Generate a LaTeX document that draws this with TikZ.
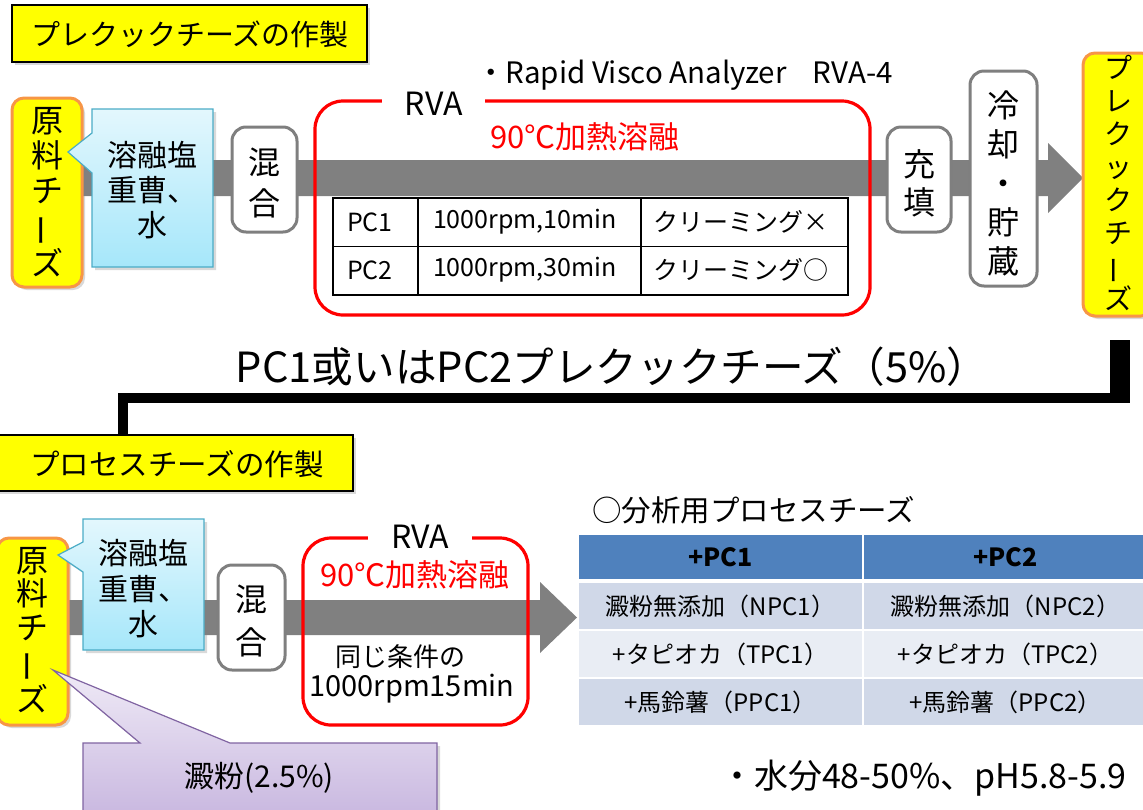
\documentclass[tikz,border=0pt]{standalone}
\usepackage{fontspec}
\usepackage{graphicx}
\setmainfont{Noto Sans CJK JP}
\usetikzlibrary{shadows,fit}
\definecolor{bandgray}{HTML}{808080}
\definecolor{ylw}{HTML}{FFFF00}
\definecolor{orng}{HTML}{F79646}
\definecolor{gedge}{HTML}{7F7F7F}
\definecolor{bluetop}{HTML}{E3F7FD}
\definecolor{bluebot}{HTML}{A6E7FA}
\definecolor{blueedge}{HTML}{4BACC6}
\definecolor{purtop}{HTML}{EFEAF6}
\definecolor{purbot}{HTML}{C9B8E0}
\definecolor{puredge}{HTML}{8064A2}
\definecolor{rvared}{HTML}{FF0000}
\definecolor{hdr}{HTML}{4F81BD}
\definecolor{rowa}{HTML}{D0D8E8}
\definecolor{rowb}{HTML}{E9EDF4}
\newcommand{\fsz}[2]{\fontsize{#1}{#2}\selectfont}
\newcommand{\choon}{\rotatebox[origin=c]{90}{ー}}
\begin{document}
\begin{tikzpicture}[x=0.5pt,y=-0.5pt,
  every node/.style={inner sep=0pt,outer sep=0pt},
  shad/.style={drop shadow={opacity=0.3,shadow xshift=1.5pt,shadow yshift=-1.5pt}},
  title/.style={draw=black,line width=0.8pt,fill=ylw,shad},
  ybox/.style={draw=orng,line width=1.5pt,fill=ylw,rounded corners=6pt,shad},
  gbox/.style={draw=gedge,line width=1.5pt,fill=white,rounded corners=7pt},
  vtext/.style={align=center},
  rvabox/.style={draw=rvared,line width=1.6pt,rounded corners=14pt},
  gaplabel/.style={fill=white,minimum height=18pt,font=\fsz{16pt}{18pt}},
  redtxt/.style={text=rvared,font=\fsz{15.5pt}{17pt}},
  blueco/.style={draw=blueedge,line width=0.6pt,top color=bluetop,bottom color=bluebot,shad},
  purco/.style={draw=puredge,line width=0.6pt,top color=purtop,bottom color=purbot,shad},
  band/.style={fill=bandgray},
  conn/.style={line width=5pt,draw=black},
  tabline/.style={draw=black,line width=0.9pt},
  tabtxt/.style={font=\fsz{12.5pt}{14pt},anchor=west},
  cellh/.style={fill=hdr},
  cella/.style={fill=rowa},
  cellb/.style={fill=rowb},
  htxt/.style={font=\bfseries\fsz{12.5pt}{14pt}},
  ctxt/.style={font=\fsz{12pt}{14pt}},
]
\useasboundingbox (0,0) rectangle (1143,809);
\clip (0,0) rectangle (1143,809);

% ---------- top flow ----------
\fill[band] (70,160) -- (1048,160) -- (1048,143) -- (1083,178) -- (1048,213) -- (1048,196) -- (70,196) -- cycle;

\node[title, fit={(12,5)(367,62)}] (t1) {};
\node[font=\fsz{14.5pt}{16pt}] (t1t) at (190,34) {プレクックチーズの作製};

\node[ybox, fit={(12,98)(82,287)}] (raw1) {};
\node[vtext, font=\fsz{16pt}{17.5pt}] (raw1t) at (raw1.center) {原\\料\\チ\\\choon\\ズ};

\path[blueco] (92,109) -- (213,109) -- (213,267) -- (92,267) -- (92,173) -- (68,152) -- (92,133) -- cycle;
\node[align=center, font=\fsz{15pt}{17.5pt}] (salt1) at (152.5,190) {溶融塩\\重曹、\\水};

\node[gbox, fit={(232,127)(297,232)}] (mix1) {};
\node[vtext, font=\fsz{16pt}{20.5pt}] (mix1t) at (264.5,183) {混\\合};

\node[rvabox, fit={(315,101)(870,315)}] (rva1) {};
\node[gaplabel, minimum width=51.5pt] (rva1l) at (433.5,104) {RVA};
\node[anchor=west, font=\fsz{14.75pt}{16pt}] (spec) at (476,75) {・Rapid Visco Analyzer\hspace{13pt}RVA-4};
\node[redtxt] (heat1) at (585,137) {90℃加熱溶融};

\node[tabline, fill=white, fit={(333,198)(848,295)}] (tab1) {};
\draw[tabline] (tab1.west) -- (tab1.east) (418,198) -- (418,295) (641,198) -- (641,295);
\node[tabtxt] (r1a) at (347,222) {PC1};
\node[tabtxt] (r1b) at (433,222) {1000rpm,10min};
\node[tabtxt] (r1c) at (653,222) {クリーミング×};
\node[tabtxt] (r2a) at (347,270) {PC2};
\node[tabtxt] (r2b) at (433,270) {1000rpm,30min};
\node[tabtxt] (r2c) at (653,270) {クリーミング○};

\node[gbox, fit={(887,127)(951,232)}] (fill1) {};
\node[vtext, font=\fsz{16pt}{19pt}] (fill1t) at (919,183) {充\\填};
\node[gbox, fit={(970,71)(1037,286)}] (cool1) {};
\node[vtext, font=\fsz{16pt}{19.5pt}] (cool1t) at (1003.5,183) {冷\\却\\・\\貯\\蔵};
\node[ybox, fit={(1083,53)(1153,316)}] (pc) {};
\node[vtext, font=\fsz{14pt}{16.5pt}] (pct) at (1118,183) {プ\\レ\\ク\\ッ\\ク\\チ\\\choon\\ズ};

% ---------- middle ----------
\node[font=\fsz{20.8pt}{22pt}] (mid) at (612,367) {PC1或いはPC2プレクックチーズ（5\%）};

\node[title, fit={(-3,435)(353,491)}] (t2) {};
\node[font=\fsz{14.75pt}{16pt}] (t2t) at (177,464) {プロセスチーズの作製};

\coordinate (cA) at (1120,340);
\coordinate (cB) at (123,398);
\draw[line width=10pt] (cA) -- (1120,403);
\draw[conn] (1125,398) -- (cB) -- (cB |- t2.north);

% ---------- bottom flow ----------
\fill[band] (60,600) -- (540,600) -- (540,582) -- (577,617.5) -- (540,653) -- (540,635) -- (60,635) -- cycle;

\node[ybox, fit={(-3,538)(68,725)}] (raw2) {};
\node[vtext, font=\fsz{16pt}{16.75pt}] (raw2t) at (33,630) {原\\料\\チ\\\choon\\ズ};

\path[blueco] (83,519) -- (204,519) -- (204,650) -- (83,650) -- (83,572) -- (58,555) -- (83,542) -- cycle;
\node[align=center, font=\fsz{15pt}{17.75pt}] (salt2) at (143.5,589) {溶融塩\\重曹、\\水};

\node[gbox, fit={(218,565)(285,670)}] (mix2) {};
\node[vtext, font=\fsz{16pt}{21.5pt}] (mix2t) at (251.5,621) {混\\合};

\node[rvabox, fit={(303,538)(528,725)}] (rva2) {};
\node[gaplabel, minimum width=52pt] (rva2l) at (420,537) {RVA};
\node[redtxt] (heat2) at (415,575) {90℃加熱溶融};
\node[font=\fsz{13pt}{15pt}] (same) at (400,657) {同じ条件の};
\node[font=\fsz{14.5pt}{16pt}] (cond) at (412,689) {1000rpm15min};

\path[purco] (83,743) -- (140,743) -- (53,670) -- (230,743) -- (437,743) -- (437,815) -- (83,815) -- cycle;
\node[font=\fsz{15pt}{17pt}] (starch) at (259,778) {澱粉(2.5\%)};

% ---------- analysis table ----------
\node[anchor=west, font=\fsz{14.75pt}{16pt}] (ana) at (592,510) {○分析用プロセスチーズ};
\node[cellh, fit={(579,535)(862,579)}] (h1) {};
\node[cellh, fit={(864,535)(1147,579)}] (h2) {};
\node[cella, fit={(579,583)(862,629)}] (a1) {};
\node[cella, fit={(864,583)(1147,629)}] (a2) {};
\node[cellb, fit={(579,631)(862,677)}] (b1) {};
\node[cellb, fit={(864,631)(1147,677)}] (b2) {};
\node[cella, fit={(579,679)(862,725)}] (c1) {};
\node[cella, fit={(864,679)(1147,725)}] (c2) {};
\node[htxt] (h1t) at (h1.center) {+PC1};
\node[htxt] (h2t) at (h2.center) {+PC2};
\node[ctxt] (a1t) at (a1.center) {澱粉無添加（NPC1）};
\node[ctxt] (a2t) at (a2.center) {澱粉無添加（NPC2）};
\node[ctxt] (b1t) at (b1.center) {+タピオカ（TPC1）};
\node[ctxt] (b2t) at (b2.center) {+タピオカ（TPC2）};
\node[ctxt] (c1t) at (c1.center) {+馬鈴薯（PPC1）};
\node[ctxt] (c2t) at (c2.center) {+馬鈴薯（PPC2）};

\node[anchor=west, font=\fsz{17pt}{19pt}] (note) at (720,778) {・水分48-50\%、pH5.8-5.9};
\end{tikzpicture}
\end{document}
